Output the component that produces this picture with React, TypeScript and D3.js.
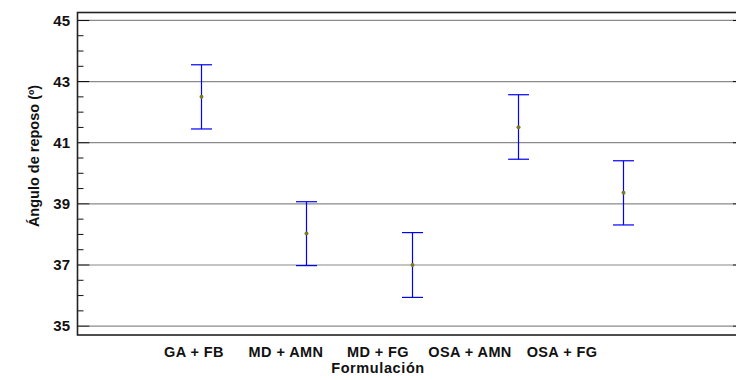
import React from "react";
import * as d3 from "d3";

const categories = ["GA + FB", "MD + AMN", "MD + FG", "OSA + AMN", "OSA + FG"];
const means = [42.5, 38.03, 37.0, 41.51, 39.36];
const lowers = [41.45, 36.98, 35.94, 40.46, 38.31];
const uppers = [43.55, 39.07, 38.06, 42.57, 40.41];
const majorTicks = [35, 37, 39, 41, 43, 45];
const minorTicks = [35.5, 36, 36.5, 37.5, 38, 38.5, 39.5, 40, 40.5, 41.5, 42, 42.5, 43.5, 44, 44.5];

const W = 736;
const H = 380;
const left = 77.5;
const right = 737;
const top = 12.5;
const bottom = 335;

export default function App() {
  const y = d3.scaleLinear().domain([34.71, 45.26]).range([bottom, top]);
  const x = d3.scaleLinear().domain([-0.17, 6.08]).range([left, right]);
  const xl = d3.scalePoint<string>().domain(categories).range([194, 562]);
  const font = "'Liberation Sans', Arial, Helvetica, sans-serif";
  const cap = 10.5;
  return (
    <svg width={W} height={H} style={{ position: "absolute", left: 0, top: 0, background: "#fff" }}>
      {majorTicks.map((t) => (
        <line key={"g" + t} x1={left + 12} x2={right - 4} y1={y(t)} y2={y(t)} stroke="#8a8a8a" strokeWidth={1.2} />
      ))}
      {majorTicks.map((t) => (
        <g key={"m" + t}>
          <line x1={left} x2={left + 12} y1={y(t)} y2={y(t)} stroke="#111" strokeWidth={1.2} />
          <line x1={right - 4} x2={right} y1={y(t)} y2={y(t)} stroke="#111" strokeWidth={1.2} />
          <text x={70} y={y(t) + 5.3} textAnchor="end" fontFamily={font} fontWeight="bold" fontSize={15} fill="#111">
            {t}
          </text>
        </g>
      ))}
      {minorTicks.map((t) => (
        <line key={"n" + t} x1={left} x2={left + 6} y1={y(t)} y2={y(t)} stroke="#111" strokeWidth={1} />
      ))}
      <rect x={left} y={top} width={right - left} height={bottom - top} fill="none" stroke="#222" strokeWidth={1.6} />
      {categories.map((c, i) => {
        const cx = Math.round(x(i + 1)) + 0.5;
        return (
          <g key={c}>
            <line x1={cx} x2={cx} y1={y(uppers[i])} y2={y(lowers[i])} stroke="#0000ff" strokeWidth={1.2} />
            <line x1={cx - cap} x2={cx + cap} y1={y(uppers[i])} y2={y(uppers[i])} stroke="#0000ff" strokeWidth={1.2} />
            <line x1={cx - cap} x2={cx + cap} y1={y(lowers[i])} y2={y(lowers[i])} stroke="#0000ff" strokeWidth={1.2} />
            <circle cx={cx} cy={y(means[i])} r={2} fill="#7d7d20" />
          </g>
        );
      })}
      {categories.map((c) => (
        <text key={"l" + c} x={xl(c)} y={356.5} textAnchor="middle" fontFamily={font} fontWeight="bold" fontSize={14.5} letterSpacing={0.4} fill="#111">
          {c}
        </text>
      ))}
      <text x={378} y={373} textAnchor="middle" fontFamily={font} fontWeight="bold" fontSize={14.5} letterSpacing={0.6} fill="#111">
        Formulación
      </text>
      <text
        transform={`translate(39,156) rotate(-90)`}
        textAnchor="middle"
        fontFamily={font}
        fontWeight="bold"
        fontSize={14.5}
        fill="#111"
      >
        Ángulo de reposo (º)
      </text>
    </svg>
  );
}
